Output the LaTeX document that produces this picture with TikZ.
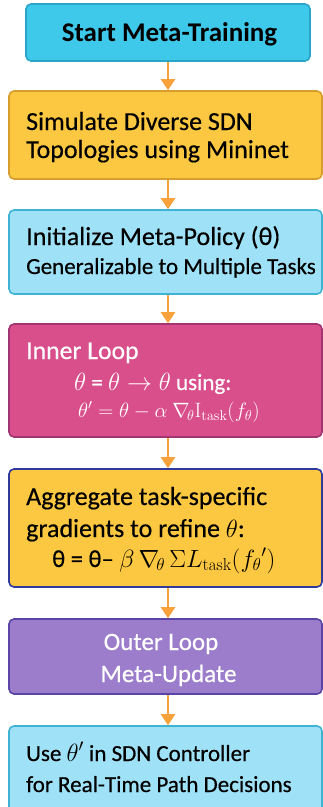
\documentclass[tikz,border=0pt]{standalone}
\usepackage[no-math]{fontspec}
\setmainfont{Carlito}[UprightFeatures={FakeBold=0.4}]
\usetikzlibrary{arrows.meta}
\definecolor{cyanA}{HTML}{3EC8EA}
\definecolor{cyanB}{HTML}{2AA5C8}
\definecolor{yelA}{HTML}{FDC841}
\definecolor{yelB}{HTML}{D79E2E}
\definecolor{ltbA}{HTML}{9FE1F6}
\definecolor{ltbB}{HTML}{3FB3D4}
\definecolor{pinkA}{HTML}{D94F8B}
\definecolor{pinkB}{HTML}{A33473}
\definecolor{navyB}{HTML}{2F3A9B}
\definecolor{purA}{HTML}{9C7DCB}
\definecolor{purB}{HTML}{5B44A8}
\definecolor{arr}{HTML}{F7A23A}
\newcommand{\fs}[1]{\fontsize{#1}{#1}\selectfont}
\tikzset{
  box/.style={draw, line width=1.6pt, rounded corners=5pt, inner sep=0pt},
  flow/.style={draw=arr, line width=2.4pt, -{Triangle[width=14pt,length=11pt]}},
  txt/.style={inner sep=0pt, anchor=base west},
  ctxt/.style={inner sep=0pt, anchor=base},
}
\begin{document}
\begin{tikzpicture}[x=1pt,y=-1pt]
\useasboundingbox (0,0) rectangle (323,807);
\fill[white] (0,0) rectangle (323,807);
% boxes
\node[box, fill=cyanA, draw=cyanB, minimum width=284pt, minimum height=57pt] (b1) at (168,32.5) {};
\node[box, fill=yelA, draw=yelB, minimum width=313pt, minimum height=88pt] (b2) at (165.5,135) {};
\node[box, fill=ltbA, draw=ltbB, minimum width=313pt, minimum height=84pt] (b3) at (165.5,252) {};
\node[box, fill=pinkA, draw=pinkB, minimum width=313pt, minimum height=113pt] (b4) at (165.5,380.5) {};
\node[box, fill=yelA, draw=navyB, minimum width=313pt, minimum height=118pt] (b5) at (165.5,528) {};
\node[box, fill=purA, draw=purB, minimum width=313pt, minimum height=75pt] (b6) at (165.5,656.5) {};
\node[box, fill=ltbA, draw=ltbB, minimum width=313pt, minimum height=90pt] (b7) at (165.5,771) {};
% arrows
\draw[flow] (b1.south) -- (b1.south |- b2.north);
\draw[flow] (b1.south |- b2.south) -- (b1.south |- b3.north);
\draw[flow] (b1.south |- b3.south) -- (b1.south |- b4.north);
\draw[flow] (b1.south |- b4.south) -- (b1.south |- b5.north);
\draw[flow] (b1.south |- b5.south) -- (b1.south |- b6.north);
\draw[flow] (b1.south |- b6.south) -- (b1.south |- b7.north);
% texts
\node[ctxt, font=\fs{27}\bfseries] (t1) at (169.5,41) {Start Meta-Training};
\node[txt, font=\fs{26}] (t2a) at (26,130) {Simulate Diverse SDN};
\node[txt, font=\fs{26}] (t2b) at (26,158) {Topologies using Mininet};
\node[txt, font=\fs{26}] (t3a) at (26,245) {Initialize Meta-Policy (θ)};
\node[txt, font=\fs{23}] (t3b) at (26,274) {Generalizable to Multiple Tasks};
\node[txt, text=white, font=\fs{25.7}] (t4a) at (26,359) {Inner Loop};
\node[txt, text=white, font=\fs{23}] (t4b) at (74,390) {$\theta$ = $\theta \rightarrow \theta$ using:};
\node[txt, text=white, font=\fs{21}] (t4c) at (78,417) {$\theta' = \theta - \alpha\ \nabla_{\!\theta}\mathrm{I}_{\mathrm{task}}(f_\theta)$};
\node[txt, font=\fs{26}] (t5a) at (26,505) {Aggregate task-specific};
\node[txt, font=\fs{26}] (t5b) at (26,537) {gradients to refine $\theta$:};
\node[txt, font=\fs{24.5}] (t5c) at (52,567) {θ = θ– $\beta\,\nabla_{\!\theta}\,\Sigma L_{\mathrm{task}}(f_\theta{}')$};
\node[ctxt, text=white, font=\fs{25}] (t6a) at (161,650) {Outer Loop};
\node[ctxt, text=white, font=\fs{25}] (t6b) at (168.5,682) {Meta-Update};
\node[txt, font=\fs{23}] (t7a) at (26,761) {Use $\theta'$ in SDN Controller};
\node[txt, font=\fs{23}] (t7b) at (26,792) {for Real-Time Path Decisions};
\end{tikzpicture}
\end{document}
